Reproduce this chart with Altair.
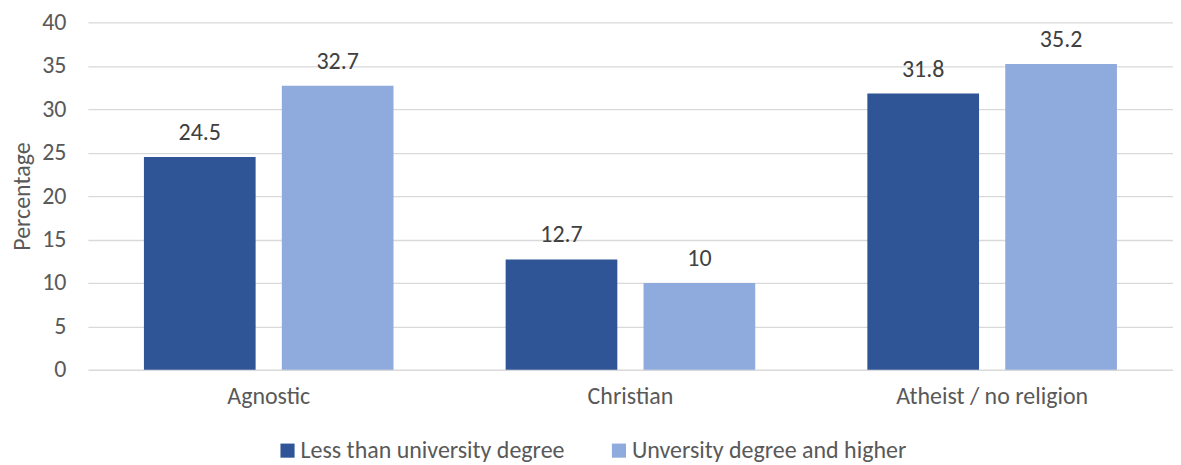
import altair as alt
import pandas as pd

categories = ["Agnostic", "Christian", "Atheist / no religion"]
series = ["Less than university degree", "Unversity degree and higher"]
less_than_degree = [24.5, 12.7, 31.8]
degree_and_higher = [32.7, 10, 35.2]
colors = ["#2F5597", "#8FAADC"]

rows = []
for c, a, b in zip(categories, less_than_degree, degree_and_higher):
    rows.append({"category": c, "series": series[0], "value": a})
    rows.append({"category": c, "series": series[1], "value": b})
df = pd.DataFrame(rows)

FONT = "Carlito, Lato"
TXT = "#595959"
FS = 24

x = alt.X("category:N", sort=categories, title=None,
          scale=alt.Scale(paddingInner=0.31, paddingOuter=0.155),
          axis=alt.Axis(labelAngle=0, labelFontSize=FS, labelColor=TXT, labelFont=FONT,
                        domain=False, ticks=False, labelPadding=15, labelLimit=400))
xo = alt.XOffset("series:N", sort=series, scale=alt.Scale(paddingInner=0.19, paddingOuter=0))

base = alt.Chart(df).encode(x=x, xOffset=xo)

bars = base.mark_bar().encode(
    y=alt.Y("value:Q", title="Percentage",
            scale=alt.Scale(domain=[0, 40]),
            axis=alt.Axis(values=[0, 5, 10, 15, 20, 25, 30, 35, 40], labelFontSize=FS,
                          labelColor=TXT, labelFont=FONT, titleFont=FONT, titleFontSize=FS,
                          titleColor=TXT, titleFontWeight="normal", domain=False, ticks=False,
                          gridColor="#D9D9D9", gridWidth=1.3, labelPadding=22, titlePadding=7)),
    color=alt.Color("series:N", sort=series, scale=alt.Scale(domain=series, range=colors),
                    legend=alt.Legend(title=None, orient="none", legendX=188, legendY=417,
                                      direction="horizontal", symbolType="square",
                                      symbolSize=200, symbolStrokeWidth=0, labelFontSize=FS,
                                      labelFont=FONT, labelColor=TXT, columnPadding=42,
                                      labelOffset=1, labelLimit=500)),
)

labels = base.mark_text(dy=-24, fontSize=FS, font=FONT, color="#404040").encode(
    y="value:Q", text=alt.Text("value:Q")
)

chart = (bars + labels).properties(
    width=1087, height=348,
    padding={"top": 2, "left": 2, "right": 0, "bottom": 0},
).configure_view(stroke=None)

chart.save("out.html", embed_options={"renderer": "svg", "actions": False})
